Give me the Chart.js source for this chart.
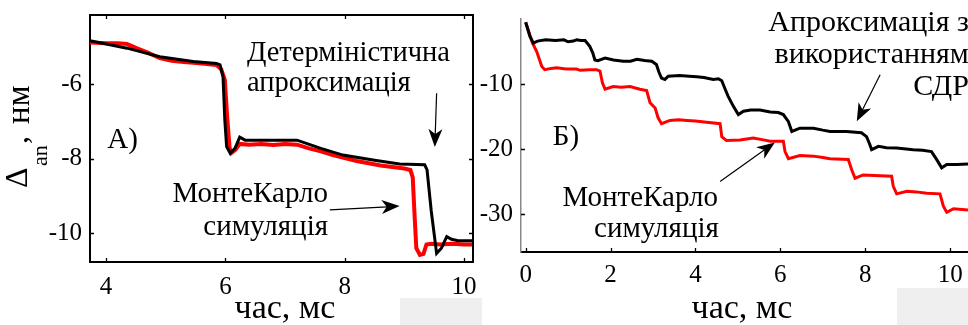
<!DOCTYPE html>
<html><head><meta charset="utf-8">
<script src="https://cdn.jsdelivr.net/npm/chart.js@4.4.1/dist/chart.umd.min.js"></script>
<style>
html,body{margin:0;padding:0;background:#fff;width:968px;height:325px;overflow:hidden;position:relative}
canvas{position:absolute;top:0}
#cL{left:0}
#cR{left:476px}
.art{position:absolute;background:#efefef}
</style></head><body>
<div class="art" style="left:400px;top:298px;width:82px;height:27px"></div>
<div class="art" style="left:897px;top:288px;width:71px;height:37px"></div>
<canvas id="cL" width="476" height="325"></canvas>
<canvas id="cR" width="492" height="325"></canvas>
<script>
// ---- Panel A (left) ----
const leftTicksX = [4, 6, 8, 10];
const leftTicksY = [-10, -8, -6];
const leftDetX = [3.73, 4.35, 4.9, 5.46, 5.85, 5.91, 5.96, 5.99, 6.02, 6.08, 6.16, 6.24, 6.33, 6.8, 7.2, 7.6, 7.97, 8.5, 8.92, 9.34, 9.38, 9.45, 9.54, 9.62, 9.71, 9.79, 9.9, 10.15];
const leftDetY = [-4.83, -5.03, -5.26, -5.39, -5.44, -5.48, -5.8, -6.96, -7.67, -7.85, -7.72, -7.42, -7.5, -7.5, -7.5, -7.72, -7.9, -8.04, -8.14, -8.16, -8.3, -9.4, -10.54, -10.4, -10.09, -10.16, -10.2, -10.2];
const leftMcX = [3.73, 4.0, 4.2, 4.35, 4.51, 4.7, 4.9, 5.1, 5.3, 5.46, 5.65, 5.85, 5.93, 5.99, 6.03, 6.07, 6.1, 6.17, 6.24, 6.4, 6.6, 6.8, 7.0, 7.2, 7.4, 7.6, 7.8, 8.0, 8.2, 8.4, 8.6, 8.8, 9.0, 9.1, 9.14, 9.17, 9.2, 9.26, 9.32, 9.37, 9.45, 9.6, 9.8, 10.0, 10.15];
const leftMcY = [-4.88, -4.9, -4.9, -4.92, -5.03, -5.15, -5.3, -5.37, -5.4, -5.42, -5.45, -5.48, -5.6, -5.88, -6.9, -7.7, -7.84, -7.75, -7.6, -7.62, -7.6, -7.63, -7.6, -7.62, -7.72, -7.8, -7.9, -7.98, -8.06, -8.12, -8.18, -8.22, -8.26, -8.3, -8.5, -9.5, -10.4, -10.58, -10.55, -10.3, -10.28, -10.3, -10.28, -10.3, -10.3];

// ---- Panel Б (right) ----
const rightTicksX = [0, 2, 4, 6, 8, 10];
const rightTicksY = [-30, -20, -10];
const rightSdeX = [0, 0.1, 0.18, 0.28, 0.47, 0.7, 0.9, 1.0, 1.12, 1.2, 1.3, 1.4, 1.51, 1.58, 1.63, 1.7, 1.87, 2.07, 2.3, 2.47, 2.62, 2.8, 2.97, 3.08, 3.14, 3.2, 3.28, 3.36, 3.63, 3.85, 4.03, 4.2, 4.42, 4.54, 4.62, 4.7, 4.77, 4.89, 5.01, 5.13, 5.3, 5.52, 5.76, 5.95, 6.07, 6.19, 6.27, 6.46, 6.78, 7.0, 7.17, 7.56, 7.91, 8.03, 8.1, 8.15, 8.31, 8.5, 8.74, 9.13, 9.35, 9.56, 9.68, 9.8, 9.92, 10.16, 10.42];
const rightSdeY = [-0.5, -2.7, -3.7, -3.4, -3.2, -3.3, -3.2, -3.5, -3.4, -3.2, -3.3, -3.3, -4.2, -5.2, -6.3, -6.4, -6.0, -6.3, -6.5, -6.5, -6.2, -6.4, -6.5, -7.0, -8.2, -9.1, -9.3, -8.8, -8.7, -8.8, -8.9, -9.0, -9.3, -9.2, -9.5, -10.8, -11.9, -13.4, -14.7, -14.2, -14.0, -14.0, -14.3, -14.4, -14.7, -15.8, -17.3, -16.8, -16.8, -17.1, -17.3, -17.3, -17.5, -18.1, -19.2, -20.1, -19.6, -19.8, -19.85, -20.1, -20.2, -20.4, -21.6, -22.9, -22.4, -22.4, -22.3];
const rightMcX = [0, 0.16, 0.26, 0.38, 0.45, 0.6, 0.73, 0.95, 1.2, 1.28, 1.5, 1.67, 1.75, 1.81, 1.87, 2.06, 2.25, 2.46, 2.69, 2.85, 2.93, 3.05, 3.12, 3.2, 3.4, 3.6, 3.8, 4.0, 4.26, 4.58, 4.62, 4.73, 5.05, 5.36, 5.6, 5.76, 6.07, 6.11, 6.19, 6.46, 6.78, 7.0, 7.17, 7.6, 7.68, 7.76, 7.95, 8.35, 8.62, 8.66, 8.74, 8.98, 9.2, 9.45, 9.76, 9.84, 9.92, 10.08, 10.42];
const rightMcY = [-0.5, -3.7, -5.0, -7.3, -7.8, -7.6, -7.5, -7.7, -7.7, -7.9, -7.8, -7.8, -8.0, -9.85, -10.8, -10.4, -10.5, -10.4, -10.8, -11.0, -12.9, -13.7, -15.2, -16.1, -15.6, -15.5, -15.6, -15.7, -15.9, -16.1, -18.1, -18.7, -18.6, -18.3, -18.6, -18.8, -18.8, -20.4, -21.5, -21.0, -21.1, -21.3, -21.5, -21.6, -23.2, -24.5, -24.0, -24.1, -24.2, -25.75, -26.9, -26.5, -26.6, -26.8, -26.9, -28.8, -29.75, -29.2, -29.4];

const zip = (xs, ys) => xs.map((x, i) => ({x: x, y: ys[i]}));
const SERIF = '"Liberation Serif", "Times New Roman", serif';
const TICKFONT = {family: SERIF, size: 25};

function arrow(ctx, x1, y1, x2, y2, L, W) {
  const dx = x2 - x1, dy = y2 - y1, len = Math.hypot(dx, dy);
  const ux = dx / len, uy = dy / len, nx = -uy, ny = ux;
  ctx.beginPath();
  ctx.lineWidth = 1.2;
  ctx.moveTo(x1, y1);
  ctx.lineTo(x2 - ux * L * 0.7, y2 - uy * L * 0.7);
  ctx.stroke();
  ctx.beginPath();
  ctx.moveTo(x2, y2);
  ctx.lineTo(x2 - ux * L + nx * W, y2 - uy * L + ny * W);
  ctx.lineTo(x2 - ux * L * 0.72, y2 - uy * L * 0.72);
  ctx.lineTo(x2 - ux * L - nx * W, y2 - uy * L - ny * W);
  ctx.closePath();
  ctx.fill();
}

function decor(spec) {
  return {
    id: 'decor',
    afterDraw(chart) {
      const ctx = chart.ctx, ca = chart.chartArea;
      const xs = chart.scales.x, ys = chart.scales.y;
      ctx.save();
      ctx.strokeStyle = '#000';
      ctx.lineWidth = 1.3;
      ctx.beginPath();
      xs.ticks.forEach(t => {
        const px = Math.round(xs.getPixelForValue(t.value)) + 0.5;
        ctx.moveTo(px, ca.bottom); ctx.lineTo(px, ca.bottom - 4);
        if (spec.box) { ctx.moveTo(px, ca.top); ctx.lineTo(px, ca.top + 4); }
      });
      ys.ticks.forEach(t => {
        const py = Math.round(ys.getPixelForValue(t.value)) + 0.5;
        ctx.moveTo(ca.left, py); ctx.lineTo(ca.left + 4, py);
        if (spec.box) { ctx.moveTo(ca.right, py); ctx.lineTo(ca.right - 4, py); }
      });
      ctx.stroke();
      if (spec.box) {
        ctx.lineWidth = 2;
        ctx.beginPath();
        ctx.moveTo(ca.left, ca.top); ctx.lineTo(ca.right, ca.top); ctx.lineTo(ca.right, ca.bottom);
        ctx.stroke();
      }
      ctx.fillStyle = '#000';
      ctx.textBaseline = 'alphabetic';
      spec.texts.forEach(t => {
        ctx.font = t.size + 'px ' + SERIF;
        ctx.textAlign = t.align;
        ctx.fillText(t.text, xs.getPixelForValue(t.x), ys.getPixelForValue(t.y));
      });
      ctx.strokeStyle = '#000';
      spec.arrows.forEach(a => {
        arrow(ctx, xs.getPixelForValue(a[0]), ys.getPixelForValue(a[1]),
                   xs.getPixelForValue(a[2]), ys.getPixelForValue(a[3]), 18, 7);
      });
      ctx.font = '34px ' + SERIF;
      ctx.textAlign = 'center';
      ctx.fillText('час, мс', spec.xTitle[0], spec.xTitle[1]);
      if (spec.yTitle) {
        ctx.save();
        ctx.translate(27, 188);
        ctx.rotate(-Math.PI / 2);
        ctx.textAlign = 'left';
        ctx.font = '32px ' + SERIF;
        ctx.fillText('Δ', 0, 0);
        ctx.font = '22px ' + SERIF;
        ctx.fillText('an', 22, 20);
        ctx.font = '32px ' + SERIF;
        ctx.fillText(',', 44, 0);
        ctx.font = '33px ' + SERIF;
        ctx.fillText('нм', 64, 2);
        ctx.restore();
      }
      ctx.restore();
    }
  };
}

function scaleX(min, max, ticks, h, pad, borderColor) {
  return {
    type: 'linear', min: min, max: max,
    afterBuildTicks: s => { s.ticks = ticks.map(v => ({value: v})); },
    afterFit: s => { s.height = h; s.paddingLeft = 0; s.paddingRight = 0; },
    ticks: {font: TICKFONT, color: '#000', padding: pad, maxRotation: 0, autoSkip: false, callback: v => String(v)},
    grid: {display: false, drawTicks: false},
    border: {display: true, color: borderColor, width: 2}
  };
}
function scaleY(min, max, ticks, w, pad, borderColor, bw) {
  return {
    type: 'linear', min: min, max: max,
    afterBuildTicks: s => { s.ticks = ticks.map(v => ({value: v})); },
    afterFit: s => { s.width = w; s.paddingTop = 0; s.paddingBottom = 0; },
    ticks: {font: TICKFONT, color: '#000', padding: pad, autoSkip: false, callback: v => String(v)},
    grid: {display: false, drawTicks: false},
    border: {display: true, color: borderColor, width: bw}
  };
}

const common = {
  responsive: false, animation: false, devicePixelRatio: 1,
  plugins: {legend: {display: false}, tooltip: {enabled: false}},
  elements: {point: {radius: 0}, line: {tension: 0}}
};

new Chart(document.getElementById('cL'), {
  type: 'line',
  data: {datasets: [
    {data: zip(leftDetX, leftDetY), borderColor: '#000', borderWidth: 3},
    {data: zip(leftMcX, leftMcY), borderColor: '#ff0000', borderWidth: 4}
  ]},
  options: Object.assign({}, common, {
    layout: {padding: {top: 15, right: 3, left: 0, bottom: 0}},
    scales: {
      x: scaleX(3.73, 10.15, leftTicksX, 63, 10, '#000'),
      y: scaleY(-10.77, -4.14, leftTicksY, 90, 8, '#000', 2)
    }
  }),
  plugins: [decor({
    box: true,
    texts: [
      {text: 'Детерміністична', x: 6.36, y: -5.375, align: 'left', size: 28.5},
      {text: 'апроксимація', x: 6.36, y: -6.17, align: 'left', size: 28.5},
      {text: 'МонтеКарло', x: 7.72, y: -9.15, align: 'right', size: 29},
      {text: 'симуляція', x: 7.72, y: -10.05, align: 'right', size: 29},
      {text: 'А)', x: 4.02, y: -7.71, align: 'left', size: 29}
    ],
    arrows: [[9.54, -6.24, 9.51, -7.68], [7.75, -9.37, 8.92, -9.27]],
    xTitle: [285, 318],
    yTitle: true
  })]
});

new Chart(document.getElementById('cR'), {
  type: 'line',
  data: {datasets: [
    {data: zip(rightSdeX, rightSdeY), borderColor: '#000', borderWidth: 3},
    {data: zip(rightMcX, rightMcY), borderColor: '#ff0000', borderWidth: 3}
  ]},
  options: Object.assign({}, common, {
    layout: {padding: {top: 19, right: 0, left: 0, bottom: 0}},
    scales: {
      x: scaleX(-0.11, 10.42, rightTicksX, 73, 8, '#000'),
      y: scaleY(-35.85, 0, rightTicksY, 45, 8, '#888', 1.5)
    }
  }),
  plugins: [decor({
    box: false,
    texts: [
      {text: 'Апроксимація з', x: 10.44, y: -1.91, align: 'right', size: 30},
      {text: 'використанням', x: 10.44, y: -6.77, align: 'right', size: 30},
      {text: 'СДР', x: 10.44, y: -11.65, align: 'right', size: 30},
      {text: 'Б)', x: 0.64, y: -19.34, align: 'left', size: 29},
      {text: 'МонтеКарло', x: 4.53, y: -28.83, align: 'right', size: 29},
      {text: 'симуляція', x: 4.55, y: -33.49, align: 'right', size: 29}
    ],
    arrows: [[8.35, -8.57, 7.8, -15.75], [4.58, -25.0, 5.87, -19.0]],
    xTitle: [742 - 476, 318],
    yTitle: false
  })]
});
</script>
</body></html>
